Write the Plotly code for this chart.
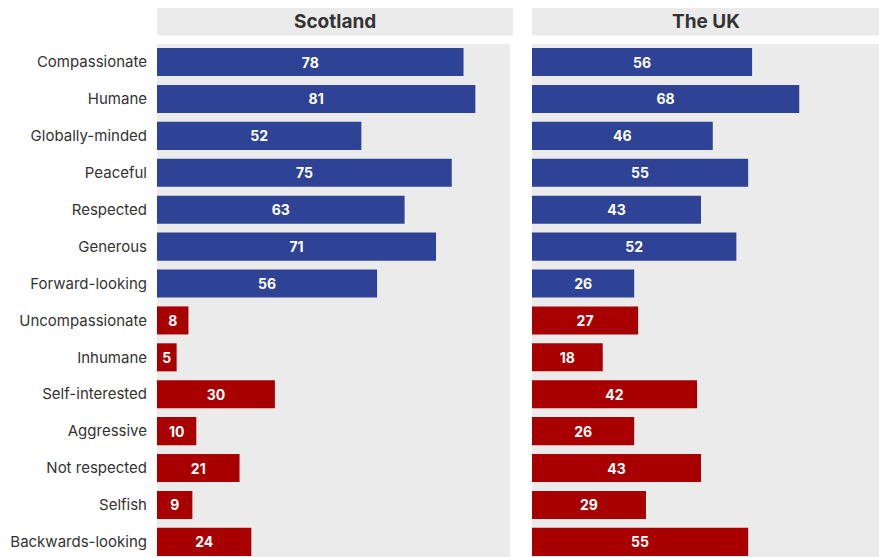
import plotly.graph_objects as go

categories = ["Compassionate", "Humane", "Globally-minded", "Peaceful", "Respected",
              "Generous", "Forward-looking", "Uncompassionate", "Inhumane", "Self-interested",
              "Aggressive", "Not respected", "Selfish", "Backwards-looking"]
scotland = [78, 81, 52, 75, 63, 71, 56, 8, 5, 30, 10, 21, 9, 24]
uk = [56, 68, 46, 55, 43, 52, 26, 27, 18, 42, 26, 43, 29, 55]
positive = [True] * 7 + [False] * 7
panel_titles = ["Scotland", "The UK"]

BLUE = "#2f4396"
RED = "#a80000"
BG = "#ebebeb"
FONT = "Inter, Lato, sans-serif"

W, H = 879, 557
L, T = 157, 44
PW = W - L
PH = H - T
colors = [BLUE if p else RED for p in positive]

fig = go.Figure()
for i, vals in enumerate([scotland, uk]):
    xa = "x" if i == 0 else "x2"
    ya = "y" if i == 0 else "y2"
    fig.add_trace(go.Bar(
        y=categories, x=vals, orientation="h",
        marker=dict(color=colors, line=dict(width=0)),
        text=[str(v) for v in vals], textposition="inside",
        insidetextanchor="middle",
        textfont=dict(color="white", size=14, family=FONT, weight="bold"),
        width=0.76, xaxis=xa, yaxis=ya, showlegend=False,
        hoverinfo="skip", cliponaxis=False,
    ))

d1 = 353 / PW
d2 = 375 / PW
yax = dict(type="category", categoryorder="array", categoryarray=categories,
           range=[13.41, -0.49], showgrid=False, zeroline=False, ticks="",
           showline=False)
fig.update_layout(
    width=W, height=H,
    margin=dict(l=L, r=0, t=T, b=0),
    paper_bgcolor="white", plot_bgcolor=BG,
    font=dict(family=FONT, color="#333333", size=15),
    uniformtext=dict(minsize=10, mode="show"),
    xaxis=dict(domain=[0, d1], range=[0, 353 / 3.93], visible=False, fixedrange=True),
    xaxis2=dict(domain=[d2, 1], range=[0, 347 / 3.93], visible=False, fixedrange=True),
    yaxis=dict(yax, anchor="x", tickfont=dict(size=15, color="#333333"), ticklabelstandoff=9),
    yaxis2=dict(yax, anchor="x2", showticklabels=False),
    bargap=0.2,
)

y0 = 1 + (T - 35.5) / PH
y1 = 1 + (T - 8) / PH
for x0, x1, t in [(0, 356 / PW, panel_titles[0]), (d2, 1, panel_titles[1])]:
    fig.add_shape(type="rect", xref="paper", yref="paper", x0=x0, x1=x1, y0=y0, y1=y1,
                  fillcolor=BG, line=dict(width=0), layer="below")
    fig.add_annotation(x=(x0 + x1) / 2, y=(y0 + y1) / 2, xref="paper", yref="paper",
                       xanchor="center", yanchor="middle",
                       text="<b>" + t + "</b>", showarrow=False,
                       font=dict(size=19, color="#333333", family=FONT))

fig.write_html("out.html", config={"displayModeBar": False},
               post_script="document.body.style.margin='0';")
